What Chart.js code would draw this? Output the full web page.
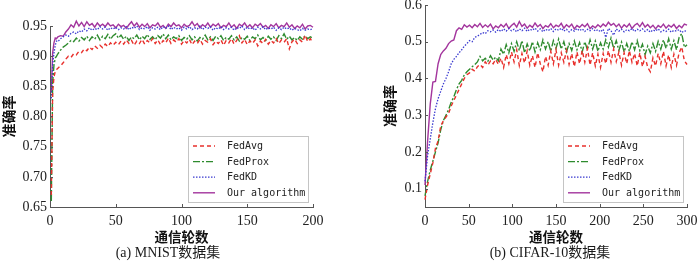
<!DOCTYPE html>
<html><head><meta charset="utf-8">
<script src="https://cdn.jsdelivr.net/npm/chart.js@4"></script>
<style>
html,body{margin:0;padding:0;background:#fff;width:700px;height:262px;overflow:hidden;}
canvas{position:absolute;top:0;}
#c1{left:0}
#c2{left:375px}
.cap{position:absolute;top:244px;font:14px 'Liberation Serif','Noto Sans CJK SC',serif;color:#1a1a1a;white-space:nowrap;transform:translateX(-50%);line-height:18px}
</style></head><body>
<canvas id="c1" width="350" height="262"></canvas>
<canvas id="c2" width="325" height="262"></canvas>
<div class="cap" style="left:168px">(a) MNIST数据集</div>
<div class="cap" style="left:550px">(b) CIFAR-10数据集</div>
<script>
const seriesNames = ['FedAvg', 'FedProx', 'FedKD', 'Our algorithm'];

// ---- MNIST (a) ----
const mnistRounds = [1,2,3,4,5,6,
 8,10,12,14,16,18,20,22,24,26,
 28,30,32,34,36,38,40,42,44,46,
 48,50,52,54,56,58,60,62,64,66,
 68,70,72,74,76,78,80,82,84,86,
 88,90,92,94,96,98,100,102,104,106,
 108,110,112,114,116,118,120,122,124,126,
 128,130,132,134,136,138,140,142,144,146,
 148,150,152,154,156,158,160,162,164,166,
 168,170,172,174,176,178,180,182,184,186,
 188,190,192,194,196,198,200];
const mnistFedAvg = [0.670,0.840,0.865,0.875,0.878,0.880,
 0.884,0.889,0.895,0.900,0.898,0.904,0.902,0.908,0.906,0.912,
 0.909,0.915,0.911,0.917,0.913,0.918,0.914,0.920,0.916,0.922,
 0.918,0.923,0.919,0.925,0.920,0.927,0.921,0.926,0.918,0.925,
 0.921,0.928,0.920,0.926,0.922,0.929,0.921,0.927,0.919,0.926,
 0.922,0.930,0.921,0.927,0.923,0.929,0.920,0.926,0.922,0.928,
 0.919,0.925,0.921,0.928,0.920,0.926,0.923,0.929,0.919,0.925,
 0.921,0.927,0.918,0.926,0.922,0.929,0.920,0.926,0.934,0.922,
 0.928,0.919,0.925,0.921,0.927,0.917,0.925,0.921,0.928,0.920,
 0.926,0.922,0.929,0.921,0.927,0.923,0.929,0.912,0.924,0.928,
 0.921,0.927,0.923,0.935,0.924,0.929,0.922];
const mnistFedProx = [0.660,0.855,0.885,0.897,0.900,0.904,
 0.910,0.915,0.918,0.922,0.926,0.924,0.930,0.925,0.931,0.927,
 0.933,0.926,0.932,0.928,0.935,0.927,0.933,0.929,0.936,0.928,
 0.934,0.937,0.930,0.935,0.928,0.933,0.926,0.932,0.929,0.935,
 0.927,0.933,0.929,0.936,0.928,0.932,0.927,0.934,0.930,0.937,
 0.929,0.935,0.927,0.932,0.929,0.934,0.926,0.931,0.928,0.934,
 0.927,0.932,0.925,0.931,0.928,0.935,0.927,0.932,0.926,0.933,
 0.929,0.934,0.926,0.931,0.928,0.934,0.927,0.932,0.925,0.931,
 0.928,0.933,0.926,0.932,0.929,0.935,0.927,0.931,0.926,0.933,
 0.928,0.932,0.926,0.934,0.929,0.937,0.928,0.933,0.927,0.931,
 0.926,0.932,0.928,0.934,0.929,0.932,0.930];
const mnistFedKD = [0.830,0.885,0.905,0.918,0.925,0.924,
 0.929,0.932,0.935,0.933,0.938,0.940,0.937,0.942,0.940,0.945,
 0.942,0.947,0.943,0.946,0.944,0.949,0.945,0.948,0.943,0.947,
 0.945,0.948,0.944,0.947,0.945,0.949,0.944,0.948,0.946,0.950,
 0.944,0.947,0.945,0.949,0.943,0.947,0.945,0.948,0.944,0.949,
 0.946,0.950,0.944,0.948,0.945,0.947,0.943,0.948,0.945,0.949,
 0.944,0.947,0.945,0.950,0.944,0.948,0.946,0.949,0.943,0.947,
 0.945,0.949,0.944,0.947,0.945,0.948,0.943,0.947,0.946,0.950,
 0.944,0.948,0.945,0.947,0.943,0.948,0.945,0.949,0.944,0.947,
 0.945,0.948,0.943,0.947,0.944,0.948,0.945,0.947,0.943,0.946,
 0.944,0.942,0.946,0.943,0.945,0.944,0.946];
const mnistOurs = [0.840,0.905,0.922,0.930,0.929,0.932,
 0.934,0.933,0.940,0.945,0.952,0.948,0.958,0.950,0.956,0.949,
 0.957,0.951,0.954,0.948,0.955,0.950,0.953,0.949,0.955,0.950,
 0.952,0.947,0.953,0.949,0.951,0.946,0.952,0.957,0.950,0.955,
 0.948,0.953,0.949,0.954,0.947,0.952,0.950,0.955,0.948,0.951,
 0.946,0.953,0.949,0.955,0.950,0.952,0.947,0.953,0.949,0.951,
 0.957,0.950,0.954,0.947,0.952,0.949,0.955,0.948,0.953,0.950,
 0.954,0.947,0.951,0.949,0.955,0.948,0.952,0.946,0.953,0.950,
 0.955,0.948,0.952,0.947,0.953,0.950,0.954,0.948,0.951,0.946,
 0.952,0.949,0.954,0.947,0.951,0.949,0.955,0.948,0.952,0.946,
 0.950,0.947,0.953,0.945,0.950,0.951,0.948];
const mnistYTicks = [0.65, 0.70, 0.75, 0.80, 0.85, 0.90, 0.95];
const mnistXTicks = [0, 50, 100, 150, 200];

// ---- CIFAR-10 (b) ----
const cifarRounds = [0,3,6,9,12,15,18,21,24,27,
 30,33,36,39,42,45,48,51,54,57,
 60,63,66,69,72,75,78,81,84,87,
 90,93,96,99,102,105,108,111,114,117,
 120,123,126,129,132,135,138,141,144,147,
 150,153,156,159,162,165,168,171,174,177,
 180,183,186,189,192,195,198,201,204,207,
 210,213,216,219,222,225,228,231,234,237,
 240,243,246,249,252,255,258,261,264,267,
 270,273,276,279,282,285,288,291,294,297,
 300];
const cifarFedAvg = [0.070,0.110,0.140,0.170,0.210,0.230,0.270,0.285,0.295,0.305,
 0.325,0.340,0.355,0.370,0.385,0.400,0.410,0.415,0.425,0.420,
 0.432,0.438,0.430,0.445,0.436,0.448,0.440,0.452,0.438,0.455,
 0.430,0.465,0.440,0.472,0.445,0.478,0.435,0.468,0.442,0.475,
 0.436,0.462,0.430,0.470,0.440,0.418,0.460,0.436,0.474,0.440,
 0.478,0.436,0.470,0.444,0.476,0.438,0.468,0.432,0.472,0.440,
 0.476,0.444,0.482,0.436,0.470,0.434,0.466,0.430,0.468,0.440,
 0.476,0.444,0.480,0.446,0.472,0.436,0.470,0.440,0.476,0.444,
 0.468,0.434,0.470,0.432,0.460,0.430,0.418,0.456,0.434,0.468,
 0.440,0.474,0.434,0.464,0.430,0.466,0.436,0.470,0.486,0.448,
 0.438];
const cifarFedProx = [0.080,0.120,0.150,0.175,0.200,0.225,0.260,0.285,0.300,0.315,
 0.335,0.350,0.370,0.385,0.395,0.410,0.418,0.425,0.432,0.438,
 0.445,0.460,0.448,0.455,0.447,0.462,0.450,0.458,0.448,0.480,
 0.466,0.492,0.470,0.495,0.474,0.500,0.476,0.503,0.470,0.494,
 0.475,0.500,0.472,0.497,0.478,0.505,0.480,0.500,0.474,0.503,
 0.482,0.507,0.480,0.500,0.472,0.495,0.476,0.502,0.478,0.498,
 0.472,0.500,0.478,0.505,0.480,0.502,0.474,0.497,0.480,0.505,
 0.485,0.510,0.482,0.503,0.476,0.499,0.472,0.495,0.474,0.500,
 0.478,0.503,0.476,0.493,0.465,0.488,0.470,0.495,0.474,0.501,
 0.480,0.505,0.482,0.508,0.480,0.503,0.478,0.512,0.522,0.485,
 0.492];
const cifarFedKD = [0.120,0.190,0.235,0.280,0.318,0.345,0.365,0.385,0.400,0.418,
 0.440,0.452,0.460,0.470,0.478,0.488,0.495,0.503,0.500,0.512,
 0.515,0.520,0.525,0.522,0.530,0.527,0.532,0.526,0.533,0.528,
 0.535,0.529,0.536,0.530,0.534,0.527,0.535,0.530,0.537,0.528,
 0.534,0.531,0.537,0.529,0.535,0.527,0.534,0.530,0.536,0.528,
 0.535,0.531,0.537,0.529,0.534,0.527,0.533,0.529,0.536,0.530,
 0.535,0.528,0.534,0.530,0.536,0.529,0.533,0.527,0.534,0.512,
 0.536,0.530,0.518,0.535,0.529,0.534,0.527,0.533,0.530,0.536,
 0.528,0.534,0.530,0.535,0.528,0.533,0.526,0.532,0.529,0.535,
 0.527,0.531,0.528,0.534,0.526,0.531,0.529,0.533,0.525,0.530,
 0.528];
const cifarOurs = [0.110,0.230,0.330,0.390,0.392,0.440,0.465,0.475,0.482,0.495,
 0.502,0.505,0.530,0.538,0.534,0.546,0.540,0.545,0.538,0.547,
 0.541,0.550,0.539,0.546,0.540,0.548,0.535,0.543,0.538,0.547,
 0.540,0.549,0.536,0.544,0.550,0.540,0.555,0.542,0.548,0.537,
 0.545,0.539,0.551,0.541,0.547,0.536,0.544,0.540,0.549,0.538,
 0.545,0.541,0.550,0.537,0.546,0.540,0.548,0.535,0.544,0.539,
 0.547,0.541,0.549,0.536,0.543,0.538,0.546,0.540,0.548,0.542,
 0.553,0.545,0.550,0.541,0.548,0.537,0.546,0.540,0.549,0.536,
 0.545,0.550,0.541,0.552,0.540,0.547,0.538,0.545,0.535,0.544,
 0.539,0.548,0.537,0.545,0.540,0.547,0.536,0.544,0.538,0.548,
 0.545];
const cifarYTicks = [0.1, 0.2, 0.3, 0.4, 0.5, 0.6];
const cifarXTicks = [0, 50, 100, 150, 200, 250, 300];

// ---- styles ----
const lineStyles = [
  {color: '#e8302c', dash: [4, 3], width: 1.4},
  {color: '#2e8b2e', dash: [7, 2, 2, 2], width: 1.4},
  {color: '#3a3ad0', dash: [1.5, 1.5], width: 1.3},
  {color: '#a3359d', dash: [], width: 1.4}
];

function zip(xs, ys) { return xs.map((x, i) => ({x: x, y: ys[i]})); }

const boxLegend = {
  id: 'boxLegend',
  afterDraw(chart, args, o) {
    const ctx = chart.ctx, a = chart.chartArea;
    const xs = chart.scales.x, ys = chart.scales.y;
    ctx.save();
    // inward tick marks
    ctx.strokeStyle = '#555'; ctx.lineWidth = 1;
    ctx.beginPath();
    xs.ticks.forEach(t => { const p = Math.round(xs.getPixelForValue(t.value)) + 0.5; ctx.moveTo(p, a.bottom); ctx.lineTo(p, a.bottom - 3); });
    ys.ticks.forEach(t => { const p = Math.round(ys.getPixelForValue(t.value)) + 0.5; ctx.moveTo(a.left, p); ctx.lineTo(a.left + 3, p); });
    ctx.stroke();
    // legend box
    const w = 120, h = 66;
    const L = Math.round(a.right - o.right - w), T = Math.round(a.bottom - o.bottom - h);
    ctx.fillStyle = '#fff'; ctx.fillRect(L, T, w, h);
    ctx.strokeStyle = '#c4c4c4'; ctx.lineWidth = 1; ctx.strokeRect(L + 0.5, T + 0.5, w, h);
    ctx.font = '10px "DejaVu Sans Mono", monospace';
    ctx.textBaseline = 'middle';
    chart.data.datasets.forEach((ds, i) => {
      const y = T + 10 + i * 15.6;
      ctx.strokeStyle = ds.borderColor; ctx.lineWidth = ds.borderWidth;
      ctx.setLineDash(ds.borderDash || []);
      ctx.beginPath(); ctx.moveTo(L + 5, y); ctx.lineTo(L + 27, y); ctx.stroke();
      ctx.setLineDash([]);
      ctx.fillStyle = '#222';
      ctx.fillText(ds.label, L + 39, y + 0.5);
    });
    ctx.restore();
  }
};

function makeChart(id, rounds, seriesList, opt) {
  const datasets = seriesList.map((vals, i) => ({
    label: seriesNames[i],
    data: zip(rounds, vals),
    borderColor: lineStyles[i].color,
    borderDash: lineStyles[i].dash,
    borderWidth: lineStyles[i].width,
    pointRadius: 0,
    tension: 0,
    fill: false,
    clip: false
  }));
  const tickFont = {family: "'Liberation Serif', 'Times New Roman', serif", size: 14};
  const titleFont = {family: "'Noto Sans CJK SC', sans-serif", weight: 'bold'};
  return new Chart(document.getElementById(id), {
    type: 'line',
    data: {datasets: datasets},
    options: {
      responsive: false,
      animation: false,
      events: [],
      layout: {padding: opt.padding},
      plugins: {
        legend: {display: false},
        tooltip: {enabled: false},
        boxLegend: opt.legend
      },
      scales: {
        x: {
          type: 'linear', min: opt.xMin, max: opt.xMax,
          grid: {display: false, drawTicks: false},
          border: {display: true, color: '#555', width: 1},
          afterBuildTicks: s => { s.ticks = opt.xTicks.map(v => ({value: v})); },
          afterFit: s => { s.height = 55; s.paddingLeft = 0; s.paddingRight = 0; s.paddingTop = 0; s.paddingBottom = 0; },
          ticks: {font: tickFont, color: '#222', padding: 6, maxRotation: 0, autoSkip: false, callback: v => String(v)},
          title: {display: true, text: '通信轮数', color: '#111', font: Object.assign({size: 13.5}, titleFont), padding: {top: 0, bottom: 17}}
        },
        y: {
          min: opt.yMin, max: opt.yMax,
          grid: {display: false, drawTicks: false},
          border: {display: true, color: '#555', width: 1},
          afterBuildTicks: s => { s.ticks = opt.yTicks.map(v => ({value: v})); },
          afterFit: s => { s.width = 50; s.paddingLeft = 0; s.paddingRight = 0; s.paddingTop = 0; s.paddingBottom = 0; },
          ticks: {font: tickFont, color: '#222', padding: 3, autoSkip: false, callback: v => v.toFixed(opt.dec)},
          title: {display: true, text: '准确率', color: '#111', font: Object.assign({size: 14}, titleFont), padding: {top: opt.yTitlePad, bottom: 0}}
        }
      }
    },
    plugins: [boxLegend]
  });
}

makeChart('c1', mnistRounds, [mnistFedAvg, mnistFedProx, mnistFedKD, mnistOurs], {
  padding: {left: 0, top: 26, right: 37, bottom: 0},
  xMin: 0, xMax: 200, yMin: 0.65, yMax: 0.95,
  xTicks: mnistXTicks, yTicks: mnistYTicks, dec: 2, yTitlePad: 0,
  legend: {right: 5, bottom: 5}
});
makeChart('c2', cifarRounds, [cifarFedAvg, cifarFedProx, cifarFedKD, cifarOurs], {
  padding: {left: 0, top: 5, right: 13, bottom: 0},
  xMin: 0, xMax: 300, yMin: 0.05, yMax: 0.6,
  xTicks: cifarXTicks, yTicks: cifarYTicks, dec: 1, yTitlePad: 6.6,
  legend: {right: 4, bottom: 5}
});
</script>
</body></html>
